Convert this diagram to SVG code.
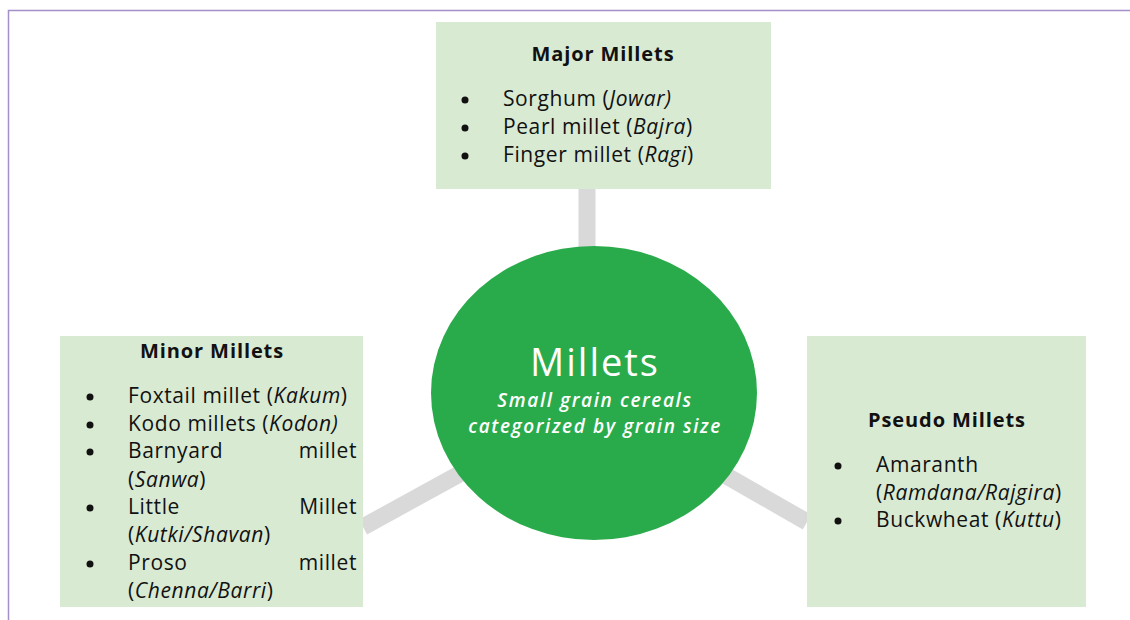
<svg xmlns="http://www.w3.org/2000/svg" width="1130" height="620" viewBox="0 0 1130 620">
<style>
.box{fill:#d9ead3}
.conn{stroke:#d9d9d9;stroke-width:17;fill:none}
.t{font-family:"Open Sans","Noto Sans",sans-serif;font-size:21px;letter-spacing:0.6px;fill:#111}
.h{font-family:"Open Sans","Noto Sans",sans-serif;font-size:20px;letter-spacing:0.9px;font-weight:bold;fill:#111}
.e{text-anchor:end}
.i{font-style:italic}
.m{text-anchor:middle}
.w{fill:#fff;font-family:"Open Sans","Noto Sans",sans-serif}
</style>
<rect width="1130" height="620" fill="#fff"/>
<path d="M8.5 620 V10.5 H1130" fill="none" stroke="#a48fc9" stroke-width="1.5"/>
<g id="connectors">
<line class="conn" x1="587" y1="400" x2="587" y2="189"/>
<line class="conn" x1="594" y1="400" x2="363" y2="527"/>
<line class="conn" x1="594" y1="400" x2="807" y2="522"/>
</g>
<g id="major">
<rect class="box" x="436" y="22" width="335" height="167"/>
<text class="h m" x="603" y="61">Major Millets</text>
<g fill="#111"><circle cx="465" cy="100" r="3.5"/><circle cx="465" cy="128" r="3.5"/><circle cx="465" cy="156" r="3.5"/></g>
<text class="t" x="503" y="106">Sorghum (<tspan class="i">Jowar)</tspan></text>
<text class="t" x="503" y="134">Pearl millet (<tspan class="i">Bajra</tspan>)</text>
<text class="t" x="503" y="162">Finger millet (<tspan class="i">Ragi</tspan>)</text>
</g>
<g id="minor">
<rect class="box" x="60" y="336" width="303" height="271"/>
<text class="h m" x="212" y="358">Minor Millets</text>
<g fill="#111"><circle cx="90" cy="397" r="3.5"/><circle cx="90" cy="425" r="3.5"/><circle cx="90" cy="452" r="3.5"/><circle cx="90" cy="508" r="3.5"/><circle cx="90" cy="564" r="3.5"/></g>
<text class="t" x="128" y="403">Foxtail millet (<tspan class="i">Kakum</tspan>)</text>
<text class="t" x="128" y="431">Kodo millets (<tspan class="i">Kodon)</tspan></text>
<text class="t" x="128" y="458">Barnyard</text><text class="t e" x="357" y="458">millet</text>
<text class="t" x="128" y="487">(<tspan class="i">Sanwa</tspan>)</text>
<text class="t" x="128" y="514">Little</text><text class="t e" x="357" y="514">Millet</text>
<text class="t" x="128" y="542">(<tspan class="i">Kutki/Shavan</tspan>)</text>
<text class="t" x="128" y="570">Proso</text><text class="t e" x="357" y="570">millet</text>
<text class="t" x="128" y="598">(<tspan class="i">Chenna/Barri</tspan>)</text>
</g>
<g id="pseudo">
<rect class="box" x="807" y="336" width="279" height="271"/>
<text class="h m" x="947" y="427">Pseudo Millets</text>
<g fill="#111"><circle cx="838" cy="466" r="3.5"/><circle cx="838" cy="521" r="3.5"/></g>
<text class="t" x="876" y="472">Amaranth</text>
<text class="t" x="876" y="500">(<tspan class="i">Ramdana/Rajgira</tspan>)</text>
<text class="t" x="876" y="527">Buckwheat (<tspan class="i">Kuttu</tspan>)</text>
</g>
<g id="center">
<ellipse cx="594" cy="393" rx="163" ry="147" fill="#2aab4b"/>
<text class="w m" x="595" y="376" font-size="38" letter-spacing="2">Millets</text>
<text class="w m i" x="595" y="407" font-size="19" font-weight="600" letter-spacing="1.6">Small grain cereals</text>
<text class="w m i" x="595" y="433" font-size="19" font-weight="600" letter-spacing="1.6">categorized by grain size</text>
</g>
</svg>
